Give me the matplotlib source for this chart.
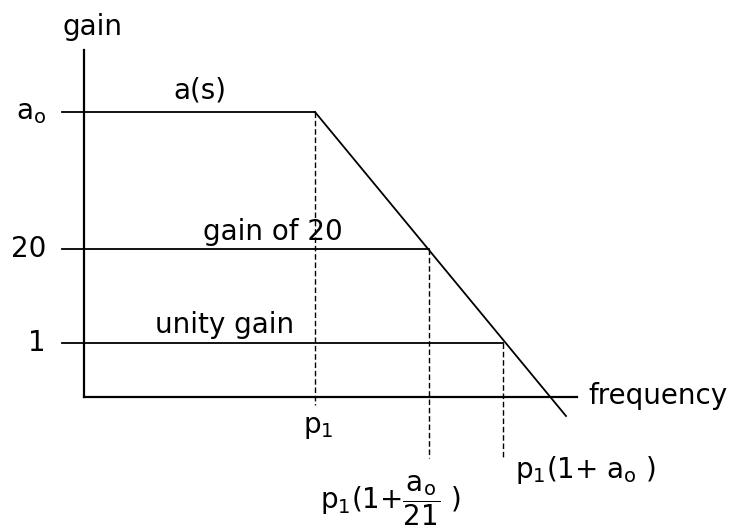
import matplotlib.pyplot as plt

# schematic units: x measured from the gain axis, y measured up from the frequency axis
level_names = ['a$_o$', '20', '1']
level_values = [285, 148, 54]
level_texts = ['a(s)', 'gain of 20', 'unity gain']
break_freqs = [231, 345, 419]
break_labels = [r'p$_1$', r'p$_1$(1+$\dfrac{\mathrm{a_o}}{21}$ )', r'p$_1$(1+ a$_o$ )']
rolloff_end = (482, -19)

plt.rcParams['font.family'] = ['DejaVu Sans']
plt.rcParams['mathtext.default'] = 'regular'
fs = 20

fig = plt.figure(figsize=(7.34, 5.27), dpi=100)
ax = fig.add_axes([0, 0, 1, 1])
ax.set_xlim(-84, 650)
ax.set_ylim(-130, 397)
ax.axis('off')

# axes
ax.plot([0, 0], [0, 347], color='black', lw=1.6)
ax.plot([0, 493], [0, 0], color='black', lw=1.6)

# gain levels, each stops at the roll-off line
for y, xb in zip(level_values, break_freqs):
    ax.plot([-22, xb], [y, y], color='black', lw=1.3)

# roll-off
ax.plot([break_freqs[0], rolloff_end[0]], [level_values[0], rolloff_end[1]], color='black', lw=1.3)

# dotted drop lines
drop_ends = [-8, -61, -61]
for xb, y, ye in zip(break_freqs, level_values, drop_ends):
    ax.plot([xb, xb], [y, ye], color='black', lw=1.0, ls=(0, (4, 2)))

# labels
ax.text(9, 370, 'gain', fontsize=fs, ha='center', va='center')
ax.text(504, 1, 'frequency', fontsize=fs, ha='left', va='center')
for name, y in zip(level_names, level_values):
    ax.text(-38, y, name, fontsize=fs, ha='right', va='center')
text_pos = [(116, 307), (189, 165), (141, 72)]
for t, (x, y) in zip(level_texts, text_pos):
    ax.text(x, y, t, fontsize=fs, ha='center', va='center')
ax.text(234, -30, break_labels[0], fontsize=fs, ha='center', va='center')
ax.text(306, -104, break_labels[1], fontsize=fs, ha='center', va='center')
ax.text(431, -73, break_labels[2], fontsize=fs, ha='left', va='center')

fig.savefig('out.png', dpi=100)
